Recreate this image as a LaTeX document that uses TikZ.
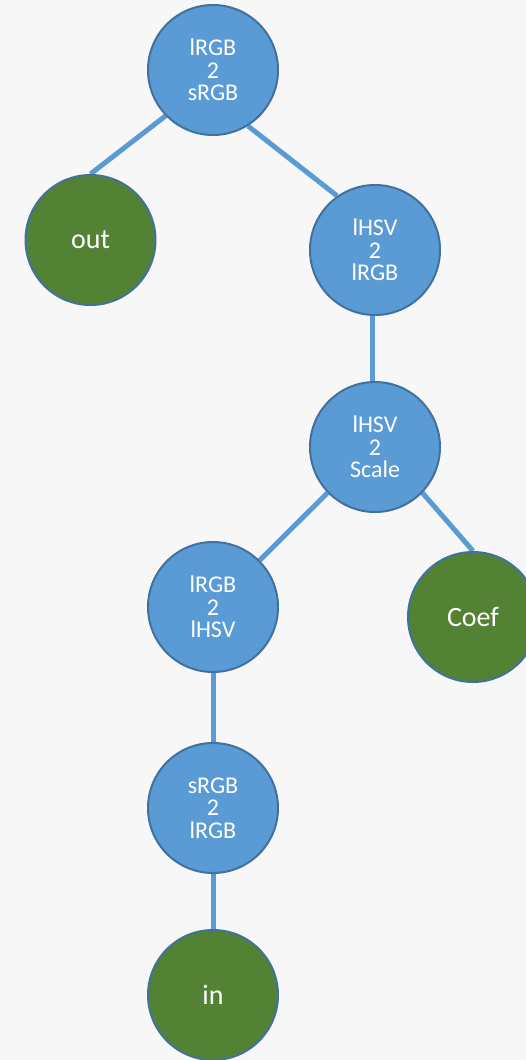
\documentclass[tikz,border=0pt]{standalone}
\usepackage{fontspec}
\setmainfont{Carlito}
\definecolor{bgc}{HTML}{F7F7F7}
\definecolor{opblue}{HTML}{5B9BD5}
\definecolor{rimblue}{HTML}{41719C}
\definecolor{leafgreen}{HTML}{548235}
\pgfdeclarelayer{paper}
\pgfdeclarelayer{links}
\pgfsetlayers{paper,links,main}
\tikzset{
  opnode/.style={circle, minimum size=130pt, inner sep=0pt, fill=opblue, draw=rimblue,
    line width=2pt, text=white, align=center,
    font=\fontsize{24}{22.5}\selectfont},
  leafnode/.style={opnode, fill=leafgreen, font=\fontsize{28}{30}\selectfont},
  link/.style={draw=opblue, line width=5pt}
}
\begin{document}
\begin{tikzpicture}[x=1pt, y=-1pt]
  \begin{pgfonlayer}{paper}
    \fill[bgc] (0,0) rectangle (526,1060);
  \end{pgfonlayer}
  \useasboundingbox (0,0) rectangle (526,1060);
  \clip (0,0) rectangle (526,1060);
  % nodes
  \node[opnode] (lrgbsrgb) at (213,70) {lRGB\\2\\sRGB};
  \node[leafnode] (out) at (90.5,240) {out};
  \node[opnode] (lhsvlrgb) at (375,250) {lHSV\\2\\lRGB};
  \node[opnode] (lhsvscale) at (375,447) {lHSV\\2\\Scale};
  \node[opnode] (lrgblhsv) at (213,607) {lRGB\\2\\lHSV};
  \node[leafnode] (coef) at (473,617) {Coef};
  \node[opnode] (srgblrgb) at (213,808) {sRGB\\2\\lRGB};
  \node[leafnode] (in) at (213,995) {in};
  % connectors, kept behind the nodes
  \begin{pgfonlayer}{links}
    \draw[link] (lrgbsrgb.224) -- (out.90);
    \draw[link] (lrgbsrgb.-58) -- (lhsvlrgb.125);
    \draw[link] ([xshift=-3pt]lhsvlrgb.south) -- ([xshift=-3pt]lhsvscale.north);
    \draw[link] (lhsvscale.224) -- (lrgblhsv.45);
    \draw[link] (lhsvscale.-44) -- (coef.90);
    \draw[link] (lrgblhsv.south) -- (srgblrgb.north);
    \draw[link] (srgblrgb.south) -- (in.north);
  \end{pgfonlayer}
\end{tikzpicture}
\end{document}
